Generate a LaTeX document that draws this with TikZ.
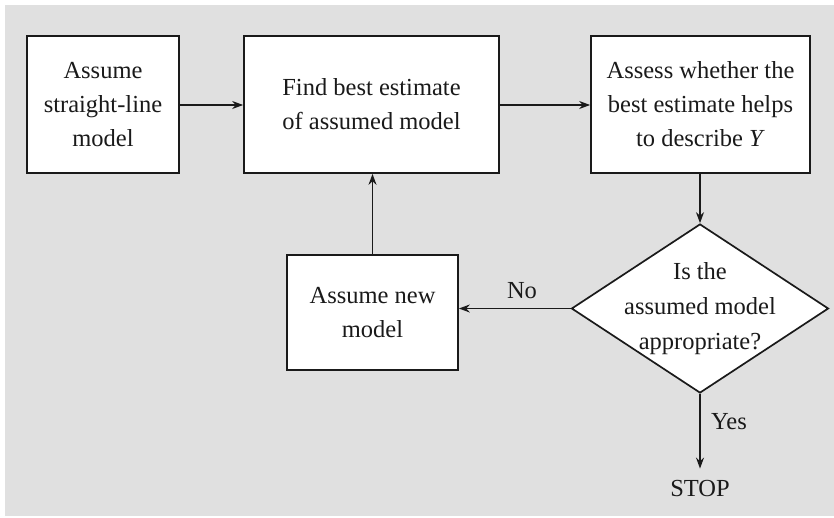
\documentclass[tikz,border=0pt]{standalone}
\usepackage{fontspec}
\setmainfont{Liberation Serif}
\usetikzlibrary{shapes.geometric,arrows.meta}
\definecolor{bg}{HTML}{E0E0E0}
\definecolor{ink}{HTML}{1A1A1A}
\begin{document}
\begin{tikzpicture}[x=1pt,y=-1pt,
 box/.style={draw=ink, fill=white, line width=1.7pt, inner sep=0pt, align=center, text=ink, font=\fontsize{24.5}{34}\selectfont},
 lbl/.style={inner sep=0pt, align=center, text=ink, font=\fontsize{24.5}{34}\selectfont},
 arr/.style={draw=ink, line width=1.5pt, -{Stealth[length=11pt,width=8pt]}}]
\useasboundingbox (0,0) rectangle (834,517);
\fill[bg] (5,5) rectangle (834,516);
\node[box, minimum width=152pt, minimum height=137pt] (b1) at (103,104.5) {Assume\\straight-line\\model};
\node[box, minimum width=255pt, minimum height=137pt] (b2) at (371.5,104.5) {Find best estimate\\of assumed model};
\node[box, minimum width=219pt, minimum height=137pt] (b3) at (700.5,104.5) {Assess whether the\\best estimate helps\\to describe \textit{Y}};
\node[box, minimum width=171pt, minimum height=115pt] (b4) at (372.5,312.5) {Assume new\\model};
\node[draw=ink, fill=white, line width=1.7pt, shape=diamond, inner sep=0pt, minimum width=257pt, minimum height=169pt] (dia) at (700,308.5) {};
\node[lbl, font=\fontsize{24.5}{35}\selectfont] (diat) at (dia.center) {Is the\\assumed model\\appropriate?};
\node[lbl] (stop) at (700,488) {STOP};
\node[lbl] (no) at (522,291) {No};
\node[lbl] (yes) at (729,422) {Yes};
\draw[arr] (b1.east |- 0,105) -- (b2.west |- 0,105);
\draw[arr] (b2.east |- 0,105) -- (b3.west |- 0,105);
\draw[arr] (b3.south -| 700,0) -- (dia.north);
\draw[arr] (dia.west) -- (b4.east |- dia.west);
\draw[arr] (b4.north) -- (b2.south -| b4.north);
\draw[arr, shorten >=11pt] (dia.south) -- (stop.north);
\end{tikzpicture}
\end{document}
